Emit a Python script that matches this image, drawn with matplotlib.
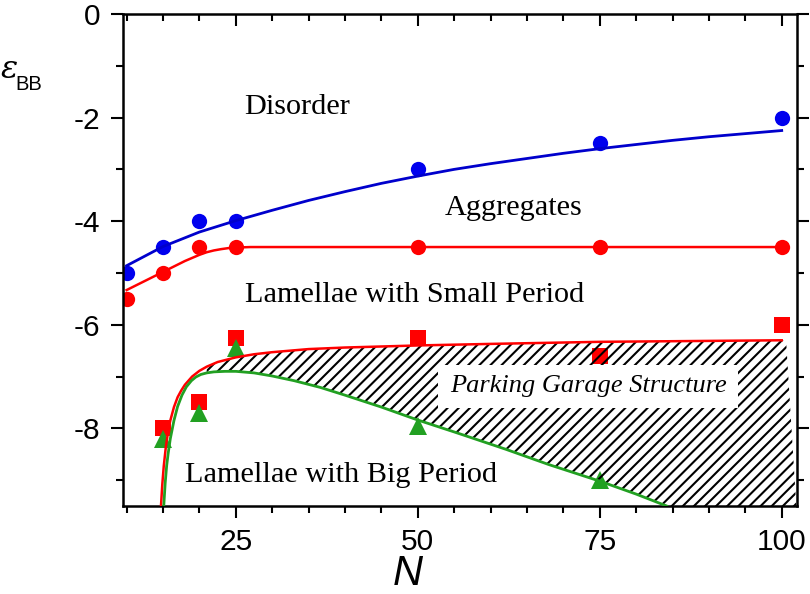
import matplotlib
matplotlib.use("Agg")
import matplotlib.pyplot as plt
import numpy as np
from matplotlib.ticker import MultipleLocator
from matplotlib.patches import Rectangle
from matplotlib.lines import TICKDOWN

# ---------------- data ----------------
N_pts = [10, 15, 20, 25, 50, 75, 100]
disorder_eps = [-5.0, -4.5, -4.0, -4.0, -3.0, -2.5, -2.0]
aggregate_eps = [-5.5, -5.0, -4.5, -4.5, -4.5, -4.5, -4.5]

N_sq = [15, 20, 25, 50, 75, 100]
small_eps = [-8.0, -7.5, -6.25, -6.25, -6.6, -6.0]

N_tri = [15, 20, 25, 50, 75]
big_eps = [-8.2, -7.7, -6.45, -7.95, -9.0]

# boundary curves
blue_fit_x = [10, 15, 20, 25, 30, 35, 40, 45, 50, 55, 60, 65, 70, 75, 80, 85, 90, 95, 100]
blue_fit_y = [-4.86, -4.49, -4.21, -3.99, -3.79, -3.60, -3.43, -3.27, -3.13, -3.00, -2.89,
              -2.79, -2.69, -2.60, -2.52, -2.44, -2.37, -2.31, -2.25]

red_top_x = [10, 12, 14, 16, 18, 19, 20, 21, 22, 23, 24, 25, 27, 30, 100]
red_top_y = [-5.33, -5.19, -5.05, -4.91, -4.77, -4.71, -4.65, -4.60, -4.565, -4.54, -4.52,
             -4.51, -4.50, -4.50, -4.50]

red_low_x = [14.7, 14.9, 15.1, 15.4, 15.7, 16.0, 16.5, 17.0, 17.5, 18, 19, 20, 21, 22.5,
             25, 27.5, 30, 35, 40, 50, 60, 75, 100]
red_low_y = [-9.54, -9.08, -8.73, -8.34, -8.06, -7.85, -7.59, -7.40, -7.27, -7.16, -7.00,
             -6.89, -6.81, -6.72, -6.63, -6.57, -6.53, -6.47, -6.44, -6.40, -6.37, -6.33, -6.30]

green_x = [15.1, 15.3, 15.5, 15.7, 16.0, 16.5, 17.0, 17.6, 18.2, 18.9, 19.5, 20.2, 21, 22,
           23.5, 25, 27.5, 30, 33, 36.6, 40, 45, 50, 55, 62, 68, 75, 80, 84.2]
green_y = [-9.50, -9.05, -8.72, -8.49, -8.20, -7.85, -7.58, -7.36, -7.20, -7.08, -7.01,
           -6.96, -6.93, -6.91, -6.90, -6.90, -6.93, -6.99, -7.08, -7.21, -7.36, -7.59,
           -7.84, -8.07, -8.40, -8.70, -9.02, -9.27, -9.50]

garage_right_x = [100.6, 102.0]
garage_right_y = [-6.30, -9.5]

xticks_major = [25, 50, 75, 100]
yticks_major = [0, -2, -4, -6, -8]

# ---------------- figure ----------------
fig = plt.figure(figsize=(8.1, 5.94), dpi=100)
ax = fig.add_axes([123/810, 1-506/594, (797-123)/810, (506-14)/594])

blue = "#0000ee"
red = "#ff0000"
green = "#22a022"

ax.plot(blue_fit_x, blue_fit_y, color="#0000cc", lw=2.0, zorder=4)
ax.plot(red_top_x, red_top_y, color=red, lw=1.8, zorder=4)
ax.plot(red_low_x, red_low_y, color=red, lw=1.8, zorder=4)
ax.plot(green_x, green_y, color=green, lw=2.0, zorder=4)

ax.plot(N_pts, disorder_eps, 'o', color=blue, ms=11, mew=0, zorder=2)
ax.plot(N_pts, aggregate_eps, 'o', color=red, ms=11, mew=0, zorder=2)
ax.plot(N_sq, small_eps, 's', color=red, ms=11, mew=0, zorder=2)
ax.plot(N_tri, big_eps, '^', color=green, ms=13.5, mew=0, zorder=2)

# hatched parking garage region
rx = np.array(red_low_x); ry = np.array(red_low_y)
gx = np.array(green_x); gy = np.array(green_y)
mt = rx >= 20.5
mb = gx >= 20.5
poly_x = np.concatenate([rx[mt], garage_right_x, gx[mb][::-1]])
poly_y = np.concatenate([ry[mt], garage_right_y, gy[mb][::-1]])
plt.rcParams['hatch.linewidth'] = 1.5
ax.fill(poly_x, poly_y, facecolor='none', edgecolor='black', hatch='///', lw=0, zorder=3)

serif = "Liberation Serif"
fs = 21.8
ax.text(26.2, -1.79, "Disorder", family=serif, fontsize=fs, va='center', ha='left')
ax.text(53.7, -3.75, "Aggregates", family=serif, fontsize=fs, va='center', ha='left')
ax.text(26.2, -5.43, "Lamellae with Small Period", family=serif, fontsize=fs, va='center', ha='left')
ax.text(18.0, -8.91, "Lamellae with Big Period", family=serif, fontsize=fs, va='center', ha='left')

ax.add_patch(Rectangle((52.8, -7.61), 41.2, 0.83, facecolor='white', edgecolor='none', zorder=5))
ax.text(73.4, -7.19, "Parking Garage Structure", family=serif, style='italic', fontsize=19,
        va='center', ha='center', zorder=6)

ax.set_xlim(9.5, 102.1)
ax.set_ylim(-9.5, 0)
ax.xaxis.set_minor_locator(MultipleLocator(5))
ax.yaxis.set_minor_locator(MultipleLocator(1))
ax.set_xticks(xticks_major)
ax.set_yticks(yticks_major)
ax.set_yticklabels([f"{v:d}" if v == 0 else f"-{abs(v)}" for v in yticks_major])

for s in ax.spines.values():
    s.set_linewidth(1.8)

ax.tick_params(which='both', width=1.5, labelsize=21.5, direction='out', top=True, right=True)
ax.tick_params(which='major', length=8.5)
ax.tick_params(which='minor', length=5)
ax.tick_params(axis='x', which='major', pad=7)
ax.tick_params(axis='y', which='major', pad=8)

for t in ax.xaxis.get_major_ticks():
    t.tick2line.set_marker(TICKDOWN)
    t.tick2line.set_markersize(8.5)
for t in ax.xaxis.get_minor_ticks():
    t.tick2line.set_marker(TICKDOWN)
    t.tick2line.set_markersize(5)

for lbl in ax.get_xticklabels() + ax.get_yticklabels():
    lbl.set_family("Liberation Sans")

fig.text(408/810, 1-574/594, "N", family="Liberation Sans", style='italic', fontsize=30,
         ha='center', va='center')
fig.text(1/810, 1-69/594, "\u03b5", family="DejaVu Serif", style='italic', fontsize=23,
         ha='left', va='center')
fig.text(15/810, 1-85/594, "BB", family="Liberation Sans", fontsize=14.5, ha='left', va='center')

fig.savefig("out.png", dpi=100)
